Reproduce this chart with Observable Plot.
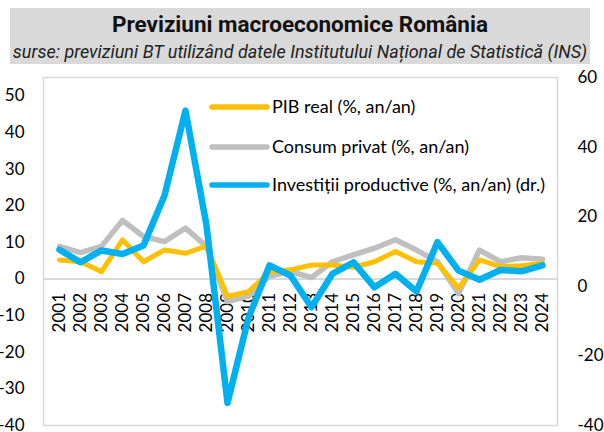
<!DOCTYPE html>
<html>
<head>
<meta charset="utf-8">
<script src="https://cdn.jsdelivr.net/npm/d3@7"></script>
<script src="https://cdn.jsdelivr.net/npm/@observablehq/plot@0.6"></script>
<style>
  html, body { margin: 0; padding: 0; background: #fff; width: 604px; height: 432px; overflow: hidden; }
  #hdr { position: relative; height: 70px; width: 604px; }
  #box { position: absolute; left: 10px; top: 8px; width: 580px; height: 56px; background: #d9d9d9; }
  #title { position: absolute; left: 10px; width: 580px; top: 10px; text-align: center;
           font-family: Roboto, sans-serif; font-weight: 700; font-size: 22.5px; line-height: 28px; color: #111; }
  #sub { position: absolute; left: 10px; width: 580px; top: 41px; text-align: center;
         font-family: Roboto, sans-serif; font-style: italic; font-size: 18px; line-height: 22px; color: #222; }
  #chart svg { display: block; overflow: visible; }
</style>
</head>
<body>
<div id="hdr">
  <div id="box"></div>
  <div id="title">Previziuni macroeconomice România</div>
  <div id="sub">surse: previziuni BT utilizând datele Institutului Național de Statistică (INS)</div>
</div>
<div id="chart"></div>
<script>
const years = ["2001","2002","2003","2004","2005","2006","2007","2008","2009","2010","2011","2012",
               "2013","2014","2015","2016","2017","2018","2019","2020","2021","2022","2023","2024"];
const pib    = [5.2, 4.7, 2.0, 10.7, 4.7, 7.9, 7.0, 9.0, -4.8, -3.5, 1.9, 2.5,
                3.8, 3.8, 3.2, 4.7, 7.5, 4.7, 4.3, -2.5, 5.2, 3.4, 3.6, 4.3];
const consum = [8.9, 7.2, 8.9, 16.0, 11.6, 10.2, 13.9, 8.9, -6.2, -4.7, 0.8, 2.0,
                0.4, 4.7, 6.6, 8.4, 10.7, 7.9, 4.7, -4.0, 7.9, 4.7, 5.8, 5.4];
const invest = [10.5, 6.9, 10.3, 9.3, 11.7, 26.1, 50.5, 17.5, -33.5, -9.0, 6.0, 3.1,
                -6.0, 3.6, 6.9, -0.3, 3.6, -1.5, 12.7, 4.5, 1.9, 4.7, 4.3, 6.0];
const leftTicks = [-40, -30, -20, -10, 0, 10, 20, 30, 40, 50];
const rightTicks = [-40, -20, 0, 20, 40, 60];
const leftDomain = [-40, 55];
const rightDomain = [-40, 60];
const seriesNames = ["PIB real (%, an/an)", "Consum privat (%, an/an)", "Investiții productive (%, an/an) (dr.)"];
const colors = ["#FFC000", "#BFBFBF", "#00B0F0"];

// map right-axis values onto the left scale
const toLeft = r => leftDomain[0] + (r - rightDomain[0]) * (leftDomain[1] - leftDomain[0]) / (rightDomain[1] - rightDomain[0]);
const fromLeft = l => rightDomain[0] + (l - leftDomain[0]) * (rightDomain[1] - rightDomain[0]) / (leftDomain[1] - leftDomain[0]);

const pibData = years.map((y, i) => ({year: y, v: pib[i]}));
const consData = years.map((y, i) => ({year: y, v: consum[i]}));
const invData = years.map((y, i) => ({year: y, v: toLeft(invest[i])}));

const chart = Plot.plot({
  width: 604, height: 362,
  marginLeft: 43, marginRight: 47, marginTop: 7, marginBottom: 7,
  style: {fontFamily: "Lato, sans-serif", fontSize: "17px", color: "#000", background: "transparent"},
  x: {type: "point", domain: years, padding: 0.5, axis: null},
  y: {domain: leftDomain, axis: null},
  marks: [
    Plot.frame({stroke: "#d9d9d9", strokeWidth: 1.5}),
    Plot.ruleY([0], {stroke: "#d9d9d9", strokeWidth: 2}),
    Plot.axisY(leftTicks, {anchor: "left", tickSize: 0, tickPadding: 19, fontSize: 17, fill: "#000", label: null}),
    Plot.axisY(rightTicks.map(toLeft), {anchor: "right", tickSize: 0, tickPadding: 20, fontSize: 17, fill: "#000", label: null,
      tickFormat: v => String(Math.round(fromLeft(v)))}),
    Plot.text(years, {x: d => d, y: () => 0, text: d => d, rotate: -90, textAnchor: "end", dy: 14,
      fontSize: 17, fill: "#000"}),
    Plot.line(consData, {x: "year", y: "v", stroke: colors[1], strokeWidth: 5.5, strokeLinejoin: "round", strokeLinecap: "round"}),
    Plot.line(pibData, {x: "year", y: "v", stroke: colors[0], strokeWidth: 5, strokeLinejoin: "round", strokeLinecap: "round"}),
    Plot.line(invData, {x: "year", y: "v", stroke: colors[2], strokeWidth: 6.5, strokeLinejoin: "round", strokeLinecap: "round"})
  ]
});
document.getElementById("chart").appendChild(chart);

// in-plot legend
const svg = d3.select(chart);
const lg = svg.append("g");
const legendY = [37, 77, 115];
seriesNames.forEach((name, i) => {
  lg.append("line").attr("x1", 212).attr("x2", 267).attr("y1", legendY[i]).attr("y2", legendY[i])
    .attr("stroke", colors[i]).attr("stroke-width", 5.5).attr("stroke-linecap", "round");
  lg.append("text").attr("x", 272).attr("y", legendY[i]).attr("dy", "0.35em").attr("text-anchor", "start")
    .attr("font-family", "Lato, sans-serif").attr("font-size", 18).attr("fill", "#000").text(name);
});
</script>
</body>
</html>
